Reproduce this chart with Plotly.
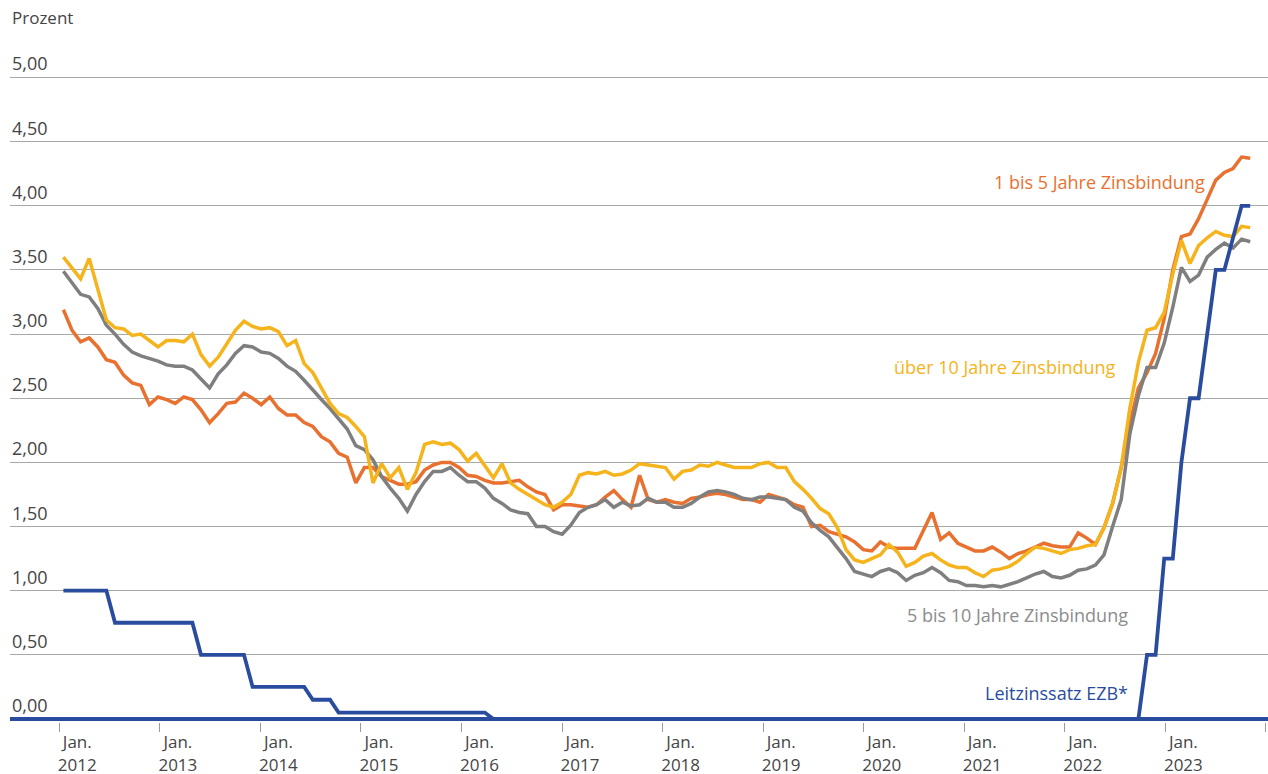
import plotly.graph_objects as go

# ---------------- data (monthly, Jan 2012 - Jul 2023) ----------------
years = ["2012", "2013", "2014", "2015", "2016", "2017", "2018", "2019",
         "2020", "2021", "2022", "2023"]

# 1 bis 5 Jahre Zinsbindung
zins_1_5 = [
    3.19, 3.03, 2.94, 2.97, 2.90, 2.80, 2.78, 2.68, 2.62, 2.60, 2.45, 2.51,
    2.49, 2.46, 2.51, 2.49, 2.41, 2.31, 2.38, 2.46, 2.47, 2.54, 2.50, 2.45,
    2.51, 2.42, 2.37, 2.37, 2.31, 2.28, 2.20, 2.16, 2.07, 2.04, 1.84, 1.96,
    1.96, 1.89, 1.86, 1.83, 1.83, 1.85, 1.94, 1.98, 2.00, 2.00, 1.96, 1.90,
    1.89, 1.86, 1.84, 1.84, 1.85, 1.86, 1.81, 1.77, 1.75, 1.63, 1.67, 1.67,
    1.66, 1.65, 1.67, 1.73, 1.78, 1.71, 1.65, 1.90, 1.71, 1.69, 1.71, 1.69,
    1.68, 1.72, 1.73, 1.75, 1.76, 1.75, 1.73, 1.71, 1.71, 1.69, 1.75, 1.73,
    1.71, 1.67, 1.65, 1.50, 1.51, 1.46, 1.44, 1.42, 1.38, 1.32, 1.31, 1.38,
    1.34, 1.33, 1.33, 1.33, 1.47, 1.61, 1.40, 1.45, 1.37, 1.34, 1.31, 1.31,
    1.34, 1.30, 1.25, 1.29, 1.31, 1.34, 1.37, 1.35, 1.34, 1.34, 1.45, 1.41,
    1.36, 1.49, 1.68, 1.96, 2.30, 2.58, 2.70, 2.85, 3.12, 3.50, 3.76, 3.78,
    3.90, 4.05, 4.20, 4.26, 4.29, 4.38, 4.37,
]

# 5 bis 10 Jahre Zinsbindung
zins_5_10 = [
    3.49, 3.40, 3.31, 3.29, 3.20, 3.07, 3.00, 2.92, 2.86, 2.83, 2.81, 2.79,
    2.76, 2.75, 2.75, 2.72, 2.65, 2.58, 2.69, 2.76, 2.85, 2.91, 2.90, 2.86,
    2.85, 2.81, 2.75, 2.71, 2.64, 2.56, 2.49, 2.42, 2.34, 2.26, 2.13, 2.10,
    2.02, 1.89, 1.80, 1.72, 1.62, 1.75, 1.85, 1.93, 1.93, 1.96, 1.90, 1.85,
    1.85, 1.80, 1.72, 1.68, 1.63, 1.61, 1.60, 1.50, 1.50, 1.46, 1.44, 1.51,
    1.61, 1.65, 1.67, 1.71, 1.65, 1.69, 1.66, 1.67, 1.72, 1.69, 1.69, 1.65,
    1.65, 1.68, 1.73, 1.77, 1.78, 1.77, 1.75, 1.72, 1.71, 1.73, 1.73, 1.72,
    1.71, 1.65, 1.62, 1.53, 1.47, 1.42, 1.34, 1.25, 1.15, 1.13, 1.11, 1.15,
    1.17, 1.14, 1.08, 1.12, 1.14, 1.18, 1.14, 1.08, 1.07, 1.04, 1.04, 1.03,
    1.04, 1.03, 1.05, 1.07, 1.10, 1.13, 1.15, 1.11, 1.10, 1.12, 1.16, 1.17,
    1.20, 1.28, 1.50, 1.71, 2.22, 2.52, 2.74, 2.74, 2.93, 3.21, 3.52, 3.41,
    3.46, 3.60, 3.66, 3.71, 3.67, 3.74, 3.72,
]

# über 10 Jahre Zinsbindung
zins_10 = [
    3.60, 3.52, 3.43, 3.59, 3.35, 3.11, 3.05, 3.04, 2.99, 3.00, 2.95, 2.90,
    2.95, 2.95, 2.94, 3.00, 2.84, 2.75, 2.82, 2.93, 3.03, 3.10, 3.06, 3.04,
    3.05, 3.02, 2.91, 2.95, 2.77, 2.70, 2.58, 2.46, 2.38, 2.35, 2.28, 2.20,
    1.84, 1.99, 1.88, 1.96, 1.79, 1.92, 2.14, 2.16, 2.14, 2.15, 2.10, 2.01,
    2.07, 1.98, 1.88, 1.99, 1.84, 1.79, 1.75, 1.71, 1.67, 1.65, 1.69, 1.75,
    1.90, 1.92, 1.91, 1.93, 1.90, 1.91, 1.94, 1.99, 1.98, 1.97, 1.96, 1.87,
    1.93, 1.94, 1.98, 1.97, 2.00, 1.98, 1.96, 1.96, 1.96, 1.99, 2.00, 1.96,
    1.96, 1.85, 1.79, 1.72, 1.64, 1.60, 1.49, 1.32, 1.24, 1.22, 1.25, 1.28,
    1.36, 1.30, 1.19, 1.22, 1.27, 1.29, 1.24, 1.20, 1.18, 1.18, 1.14, 1.11,
    1.16, 1.17, 1.19, 1.23, 1.29, 1.34, 1.33, 1.31, 1.29, 1.32, 1.33, 1.35,
    1.36, 1.49, 1.68, 1.96, 2.42, 2.78, 3.03, 3.05, 3.17, 3.47, 3.73, 3.55,
    3.69, 3.75, 3.80, 3.77, 3.76, 3.84, 3.83,
]

# Leitzinssatz EZB (Monatsende)
leitzins = [
    1.00, 1.00, 1.00, 1.00, 1.00, 1.00, 0.75, 0.75, 0.75, 0.75, 0.75, 0.75,
    0.75, 0.75, 0.75, 0.75, 0.50, 0.50, 0.50, 0.50, 0.50, 0.50, 0.25, 0.25,
    0.25, 0.25, 0.25, 0.25, 0.25, 0.15, 0.15, 0.15, 0.05, 0.05, 0.05, 0.05,
    0.05, 0.05, 0.05, 0.05, 0.05, 0.05, 0.05, 0.05, 0.05, 0.05, 0.05, 0.05,
    0.05, 0.05, 0.00, 0.00, 0.00, 0.00, 0.00, 0.00, 0.00, 0.00, 0.00, 0.00,
    0.00, 0.00, 0.00, 0.00, 0.00, 0.00, 0.00, 0.00, 0.00, 0.00, 0.00, 0.00,
    0.00, 0.00, 0.00, 0.00, 0.00, 0.00, 0.00, 0.00, 0.00, 0.00, 0.00, 0.00,
    0.00, 0.00, 0.00, 0.00, 0.00, 0.00, 0.00, 0.00, 0.00, 0.00, 0.00, 0.00,
    0.00, 0.00, 0.00, 0.00, 0.00, 0.00, 0.00, 0.00, 0.00, 0.00, 0.00, 0.00,
    0.00, 0.00, 0.00, 0.00, 0.00, 0.00, 0.00, 0.00, 0.00, 0.00, 0.00, 0.00,
    0.00, 0.00, 0.00, 0.00, 0.00, 0.00, 0.50, 0.50, 1.25, 1.25, 2.00, 2.50,
    2.50, 3.00, 3.50, 3.50, 3.75, 4.00, 4.00,
]

y_ticks = [0.0, 0.5, 1.0, 1.5, 2.0, 2.5, 3.0, 3.5, 4.0, 4.5, 5.0]

months = list(range(len(zins_1_5)))  # month index, 0 = Jan. 2012

# ---------------- layout geometry (pixels) ----------------
W, H = 1268, 774
ML, MR, MT, MB = 10, 0, 39, 52
PX0, PX_STEP = 63.4, 8.6          # pixel of first month, pixels per month
PY0, PY_UNIT = 719.0, 128.3       # pixel of 0 %, pixels per percent point
plot_l, plot_r, plot_t, plot_b = ML, W - MR, MT, H - MB

def xd(px):
    return (px - PX0) / PX_STEP

def yd(py):
    return (PY0 - py) / PY_UNIT

def xp(px):
    return (px - plot_l) / (plot_r - plot_l)

def yp(py):
    return (plot_b - py) / (plot_b - plot_t)

x_range = [xd(plot_l), xd(plot_r)]
y_range = [yd(plot_b), yd(plot_t)]

tick_pos = [xd(59.3 + 100.55 * k) for k in range(len(years) + 1)]
tick_txt = [f"Jan.<br>{y}" for y in years] + [""]

FONT = "Open Sans"
ORANGE = "#E8712F"
YELLOW = "#F5B31C"
GRAY = "#7F7F7F"
BLUE = "#2A4C9E"
TEXT = "#454545"

fig = go.Figure()
fig.add_trace(go.Scatter(x=months, y=zins_1_5, mode="lines",
                         line=dict(color=ORANGE, width=3.5), name="1 bis 5 Jahre Zinsbindung"))
fig.add_trace(go.Scatter(x=months, y=zins_5_10, mode="lines",
                         line=dict(color=GRAY, width=3.5), name="5 bis 10 Jahre Zinsbindung"))
fig.add_trace(go.Scatter(x=months, y=zins_10, mode="lines",
                         line=dict(color=YELLOW, width=3.5), name="über 10 Jahre Zinsbindung"))
fig.add_trace(go.Scatter(x=months, y=leitzins, mode="lines",
                         line=dict(color=BLUE, width=3.8), name="Leitzinssatz EZB*"))

ann = []
ann.append(dict(x=xp(10), y=yp(18), xref="paper", yref="paper", text="Prozent",
                showarrow=False, xanchor="left", yanchor="middle",
                font=dict(family=FONT, size=17, color=TEXT)))
for v in y_ticks:
    gy = PY0 - v * PY_UNIT
    ann.append(dict(x=xp(10), y=yp(gy - 14), xref="paper", yref="paper",
                    text=f"{v:.2f}".replace(".", ","), showarrow=False,
                    xanchor="left", yanchor="middle",
                    font=dict(family=FONT, size=18, color=TEXT)))

labels = [
    ("1 bis 5 Jahre Zinsbindung", 1207, 182, ORANGE),
    ("über 10 Jahre Zinsbindung", 1118, 367, YELLOW),
    ("5 bis 10 Jahre Zinsbindung", 1130, 615, "#8C8C8C"),
    ("Leitzinssatz EZB*", 1130, 693, BLUE),
]
for t, px, py, c in labels:
    ann.append(dict(x=xp(px), y=yp(py), xref="paper", yref="paper", text=t,
                    showarrow=False, xanchor="right", yanchor="middle",
                    font=dict(family=FONT, size=18, color=c)))

fig.update_layout(
    width=W, height=H,
    margin=dict(l=ML, r=MR, t=MT, b=MB, autoexpand=False),
    paper_bgcolor="white", plot_bgcolor="white",
    showlegend=False,
    annotations=ann,
    xaxis=dict(range=x_range, tickmode="array", tickvals=tick_pos, ticktext=tick_txt,
               automargin=False,
               showgrid=False, zeroline=False, showline=False,
               ticks="outside", ticklen=9, tickwidth=1, tickcolor="#9a9a9a",
               ticklabelshift=18, ticklabelstandoff=-4,
               tickfont=dict(family=FONT, size=17, color=TEXT)),
    yaxis=dict(range=y_range, tickmode="array", tickvals=y_ticks, showticklabels=False,
               automargin=False,
               showgrid=True, gridcolor="#a8a8a8", gridwidth=1,
               zeroline=True, zerolinecolor=BLUE, zerolinewidth=3.5,
               showline=False, ticks=""),
)

fig.write_html(
    "out.html",
    config={"displayModeBar": False},
    post_script="document.body.style.margin='0';document.body.style.overflow='hidden';",
)
